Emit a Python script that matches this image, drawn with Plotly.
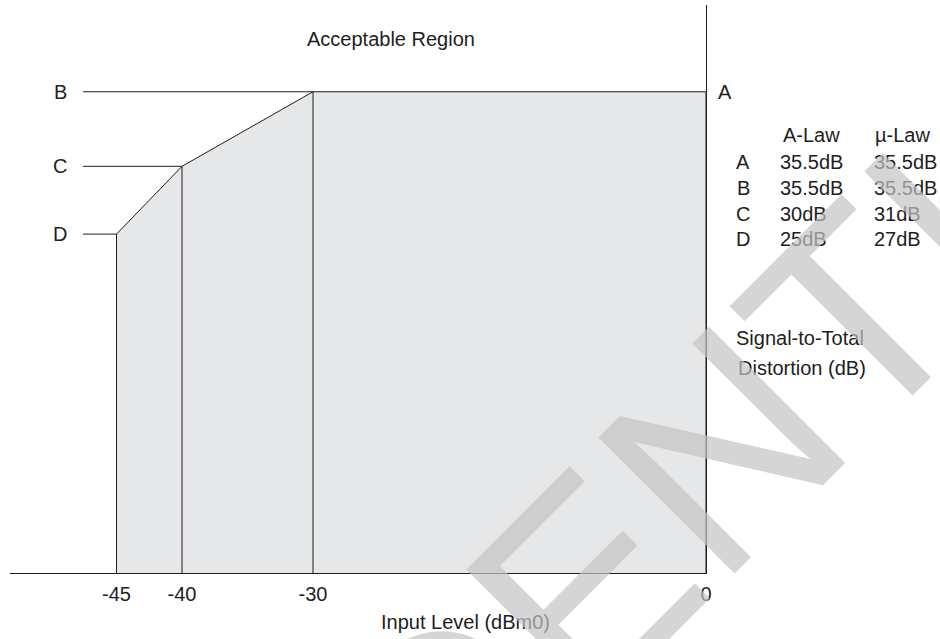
import plotly.graph_objects as go

# ---------------- data ----------------
x_levels = [-45, -40, -30, 0]            # input level breakpoints (dBm0)
stdr_levels = [25, 30, 35.5, 35.5]       # signal-to-total distortion at those points (A-law, dB)
point_names = ["D", "C", "B", "A"]
xtick_vals = [-45, -40, -30, 0]
xtick_text = ["-45", "-40", "-30", "0"]
table_rows = ["A", "B", "C", "D"]
alaw_text = ["35.5dB", "35.5dB", "30dB", "25dB"]
mulaw_text = ["35.5dB", "35.5dB", "31dB", "27dB"]

# ---------------- layout constants ----------------
W, H = 940, 639
ML, MR, MT, MB = 10, 234, 5, 66
PW, PH = W - ML - MR, H - MT - MB
X_RANGE = [-53.13, 0]
Y_RANGE = [0, 41.9]
FONT = "Liberation Sans, Arial, sans-serif"
INK = "#1e1e1e"
FS = 20


def px(xp):
    return (xp - ML) / PW


def py(yp):
    return (H - MB - yp) / PH


def xdata(xp):
    return X_RANGE[0] + (xp - ML) / PW * (X_RANGE[1] - X_RANGE[0])


LEADER_X = xdata(83)
LABEL_X = xdata(60)

fig = go.Figure()

# acceptable region polygon
poly_x = [x_levels[0]] + x_levels + [x_levels[-1]]
poly_y = [0] + stdr_levels + [0]
fig.add_trace(go.Scatter(x=poly_x, y=poly_y, fill="toself", fillcolor="#e6e7e9",
                         mode="lines", line=dict(color=INK, width=1),
                         hoverinfo="skip", showlegend=False))

# inner vertical lines at breakpoints
for xv, yv in zip(x_levels[1:3], stdr_levels[1:3]):
    fig.add_trace(go.Scatter(x=[xv, xv], y=[0, yv], mode="lines",
                             line=dict(color=INK, width=1),
                             hoverinfo="skip", showlegend=False))

# leader lines for D, C, B
for name, xv, yv in zip(point_names[:3], x_levels[:3], stdr_levels[:3]):
    fig.add_trace(go.Scatter(x=[LEADER_X, xv], y=[yv, yv], mode="lines",
                             line=dict(color=INK, width=1),
                             hoverinfo="skip", showlegend=False))

annotations = []
for name, yv in zip(point_names[:3], stdr_levels[:3]):
    annotations.append(dict(x=LABEL_X, y=yv, xref="x", yref="y", text=name,
                            showarrow=False, font=dict(size=FS, color=INK, family=FONT),
                            xanchor="center", yanchor="middle"))
annotations.append(dict(x=px(725), y=stdr_levels[-1], xref="paper", yref="y", text=point_names[-1],
                        showarrow=False, font=dict(size=FS, color=INK, family=FONT),
                        xanchor="center", yanchor="middle"))

annotations.append(dict(x=px(391), y=py(39), xref="paper", yref="paper", text="Acceptable Region",
                        showarrow=False, font=dict(size=FS, color=INK, family=FONT),
                        xanchor="center", yanchor="middle"))
annotations.append(dict(x=px(465), y=py(622), xref="paper", yref="paper", text="Input Level (dBm0)",
                        showarrow=False, font=dict(size=FS, color=INK, family=FONT),
                        xanchor="center", yanchor="middle"))

# table
annotations.append(dict(x=px(811), y=py(135), xref="paper", yref="paper", text="A-Law",
                        showarrow=False, font=dict(size=FS, color=INK, family=FONT),
                        xanchor="center", yanchor="middle"))
annotations.append(dict(x=px(902), y=py(135), xref="paper", yref="paper", text="µ-Law",
                        showarrow=False, font=dict(size=FS, color=INK, family=FONT),
                        xanchor="center", yanchor="middle"))
row_y = [162, 188, 213.5, 239]
for r, a, m, yy in zip(table_rows, alaw_text, mulaw_text, row_y):
    annotations.append(dict(x=px(743), y=py(yy), xref="paper", yref="paper", text=r,
                            showarrow=False, font=dict(size=FS, color=INK, family=FONT),
                            xanchor="center", yanchor="middle"))
    annotations.append(dict(x=px(778), y=py(yy), xref="paper", yref="paper", text=a,
                            showarrow=False, font=dict(size=FS, color=INK, family=FONT),
                            xanchor="left", yanchor="middle"))
    annotations.append(dict(x=px(872), y=py(yy), xref="paper", yref="paper", text=m,
                            showarrow=False, font=dict(size=FS, color=INK, family=FONT),
                            xanchor="left", yanchor="middle"))

annotations.append(dict(x=px(800), y=py(338), xref="paper", yref="paper", text="Signal-to-Total",
                        showarrow=False, font=dict(size=FS, color=INK, family=FONT),
                        xanchor="center", yanchor="middle"))
annotations.append(dict(x=px(802), y=py(368), xref="paper", yref="paper", text="Distortion (dB)",
                        showarrow=False, font=dict(size=FS, color=INK, family=FONT),
                        xanchor="center", yanchor="middle"))

# watermark (on top)
annotations.append(dict(x=px(485), y=py(686), xref="paper", yref="paper", text="CONFIDENTIAL",
                        showarrow=False, textangle=-45,
                        font=dict(size=280, color="rgba(195,195,195,0.7)", family=FONT),
                        xanchor="center", yanchor="middle"))

fig.update_layout(
    width=W, height=H,
    margin=dict(l=ML, r=MR, t=MT, b=MB, pad=0),
    paper_bgcolor="white", plot_bgcolor="white",
    showlegend=False,
    annotations=annotations,
    xaxis=dict(range=X_RANGE, tickvals=xtick_vals, ticktext=xtick_text,
               showgrid=False, zeroline=False, showline=True, linecolor=INK, linewidth=1,
               ticks="", ticklabelstandoff=3,
               tickfont=dict(size=FS, color=INK, family=FONT), fixedrange=True),
    yaxis=dict(range=Y_RANGE, side="right", showgrid=False, zeroline=False,
               showline=True, linecolor=INK, linewidth=1, showticklabels=False,
               ticks="", fixedrange=True),
)

fig.write_html("out.html", config={"displayModeBar": False},
               post_script="document.body.style.margin='0';document.body.style.overflow='hidden';")
